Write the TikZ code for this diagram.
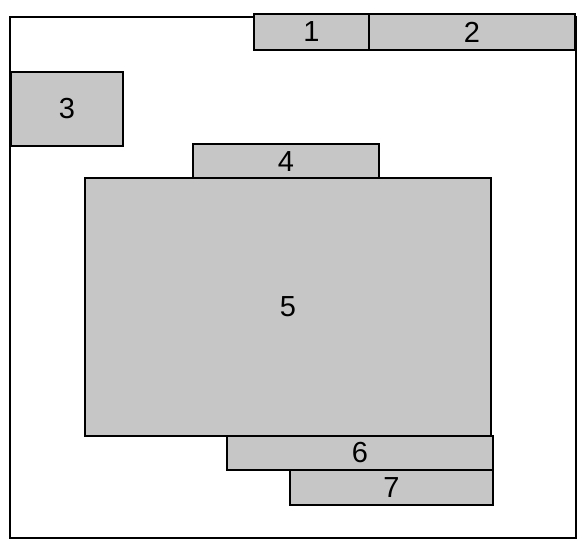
\documentclass[tikz,border=0pt]{standalone}
\usepackage{fontspec}
\setmainfont{Liberation Sans}
\usetikzlibrary{positioning}

\begin{document}
\begin{tikzpicture}[x=1pt, y=-1pt,
  room/.style={rectangle, draw, fill=gray!45, line width=1.4pt, inner sep=0pt, outer sep=0pt, anchor=north west, font=\fontsize{29}{30}\selectfont},
  frame/.style={rectangle, draw, line width=1.4pt, inner sep=0pt, outer sep=0pt, anchor=north west}]
  \useasboundingbox (0,0) rectangle (584,541);
  \node [frame, minimum width=566pt, minimum height=521pt] (site) at (10,17) {};
  \node [room, minimum width=115pt, minimum height=36pt] (r1) at (254,14) {1};
  \node [room, minimum width=206pt, minimum height=36pt] (r2) at (369,14) {2};
  \node [room, minimum width=112pt, minimum height=74pt] (r3) at (11,72) {3};
  \node [room, minimum width=186pt, minimum height=36pt] (r4) at (193,144) {4};
  \node [room, minimum width=406pt, minimum height=258pt] (r5) at (85,178) {5};
  \node [room, minimum width=266pt, minimum height=34pt] (r6) at (227,436) {6};
  \node [room, minimum width=203pt, minimum height=35pt] (r7) at (290,470) {7};
\end{tikzpicture}
\end{document}
